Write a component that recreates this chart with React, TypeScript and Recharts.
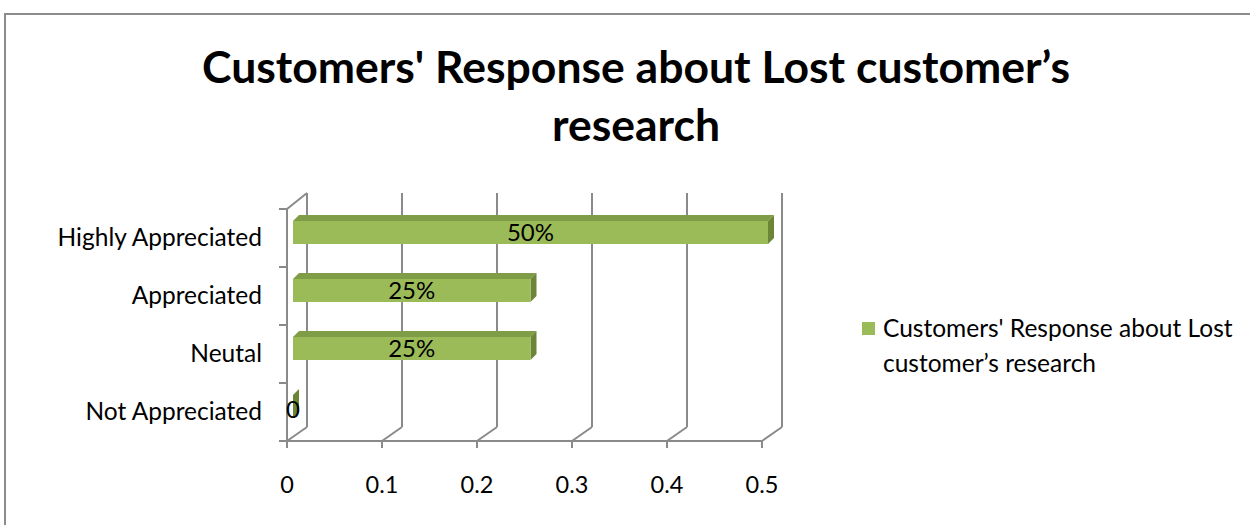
import { Bar, BarChart, CartesianGrid, LabelList, Legend, XAxis, YAxis } from "recharts";

// Encuesta: respuesta de clientes sobre la investigación de clientes perdidos.
const categories = ["Highly Appreciated", "Appreciated", "Neutal", "Not Appreciated"];
const values = [0.5, 0.25, 0.25, 0];
const xTicks = [0, 0.1, 0.2, 0.3, 0.4, 0.5];
const seriesName = "Customers' Response about Lost customer’s research";
const titleLines = ["Customers' Response about Lost customer’s", "research"];

const data = categories.map((name, i) => ({ name, value: values[i] }));

const W = 1250;
const H = 525;
const AX = 287; // eje vertical frontal
const TOP = 209;
const BOTTOM = 441;
const X_AXIS_H = 60;
const margin = { top: TOP, right: W - 762, bottom: H - BOTTOM - X_AXIS_H, left: 0 };
const bandH = (BOTTOM - TOP) / categories.length;
const DX = 20; // profundidad de la pared
const DY = 15;
const BD = 6; // profundidad de las barras
const font = "Lato, 'Open Sans', sans-serif";
const gridColor = "#8a8a8a";

function Box(props: any) {
  const { x, y, width, height } = props;
  const fx = x + BD;
  const fy = y - BD;
  return (
    <g>
      <polygon
        points={`${fx},${fy} ${fx + BD},${fy - BD} ${fx + width + BD},${fy - BD} ${fx + width},${fy}`}
        fill="#7f9d47"
      />
      <polygon
        points={`${fx + width},${fy} ${fx + width + BD},${fy - BD} ${fx + width + BD},${fy + height - BD} ${fx + width},${fy + height}`}
        fill="#6b8636"
      />
      {width > 0 && <rect x={fx} y={fy} width={width} height={height} fill="#9bbb59" />}
    </g>
  );
}

function BarLabel(props: any) {
  const { x, y, width, height, value } = props;
  const text = value === 0 ? "0" : `${Math.round(value * 100)}%`;
  return (
    <text
      x={x + width / 2 + BD}
      y={y + height / 2 - BD + (value === 0 ? 5 : 2)}
      textAnchor="middle"
      dominantBaseline="middle"
      fontFamily={font}
      fontSize={24}
      fill="#000"
    >
      {text}
    </text>
  );
}

function GridLine(props: any) {
  const { x1, y1, y2 } = props;
  const first = Math.abs(x1 - AX) < 0.5;
  return (
    <g stroke={gridColor} strokeWidth={2} fill="none">
      <line x1={x1 + DX} y1={y1 - DY - 1} x2={x1 + DX} y2={y2 - DY + 1} />
      <line x1={x1} y1={y2} x2={x1 + DX} y2={y2 - DY + 1} />
      {first && <line x1={x1} y1={y1} x2={x1 + DX} y2={y1 - DY - 1} />}
    </g>
  );
}

function YTick(props: any) {
  const { x, y, payload, index } = props;
  return (
    <g>
      <line x1={AX - 8} y1={y - bandH / 2} x2={AX} y2={y - bandH / 2} stroke={gridColor} strokeWidth={2} />
      {index === categories.length - 1 && (
        <line x1={AX - 8} y1={y + bandH / 2} x2={AX} y2={y + bandH / 2} stroke={gridColor} strokeWidth={2} />
      )}
      <text x={x} y={y + 2} textAnchor="end" dominantBaseline="middle" fontFamily={font} fontSize={24.5} fill="#000">
        {payload.value}
      </text>
    </g>
  );
}

function LegendBox() {
  return (
    <div style={{ display: "flex", alignItems: "flex-start", fontFamily: font, fontSize: 24.5, lineHeight: "35px", color: "#000" }}>
      <span style={{ width: 13, height: 13, background: "#9bbb59", marginTop: 12, marginRight: 8, flex: "none" }} />
      <span style={{ width: 370 }}>{seriesName}</span>
    </div>
  );
}

export default function App() {
  return (
    <div style={{ position: "absolute", left: 0, top: 0, width: W, height: H, background: "#fff", overflow: "hidden" }}>
      <div
        style={{
          position: "absolute",
          left: 4,
          top: 13,
          width: W,
          height: H,
          borderTop: "2px solid #8c8c8c",
          borderLeft: "2px solid #8c8c8c",
        }}
      />
      <div
        style={{
          position: "absolute",
          left: 0,
          top: 37,
          width: 1272,
          textAlign: "center",
          fontFamily: font,
          fontWeight: 700,
          fontSize: 44.5,
          lineHeight: "58px",
          color: "#000",
        }}
      >
        {titleLines.map((l) => (
          <div key={l}>{l}</div>
        ))}
      </div>
      <div style={{ position: "absolute", left: 0, top: 0 }}>
        <BarChart width={W} height={H} data={data} layout="vertical" margin={margin} barSize={23}>
          <CartesianGrid horizontal={false} vertical={GridLine} />
          <XAxis
            type="number"
            domain={[0, 0.5]}
            ticks={xTicks}
            interval={0}
            height={X_AXIS_H}
            axisLine={{ stroke: gridColor, strokeWidth: 2 }}
            tickLine={{ stroke: gridColor, strokeWidth: 2 }}
            tickSize={7}
            tickMargin={28}
            tick={{ fill: "#000", fontSize: 23.5, fontFamily: font }}
          />
          <YAxis
            type="category"
            dataKey="name"
            axisLine={{ stroke: gridColor, strokeWidth: 2 }}
            tickLine={false}
            tickSize={0}
            tickMargin={25}
            width={AX}
            tick={YTick}
          />
          <Legend
            layout="vertical"
            align="center"
            verticalAlign="middle"
            content={LegendBox}
            wrapperStyle={{ left: 862, top: 310, width: 388 }}
          />
          <Bar dataKey="value" name={seriesName} shape={Box} isAnimationActive={false}>
            <LabelList dataKey="value" content={BarLabel} />
          </Bar>
        </BarChart>
      </div>
    </div>
  );
}
